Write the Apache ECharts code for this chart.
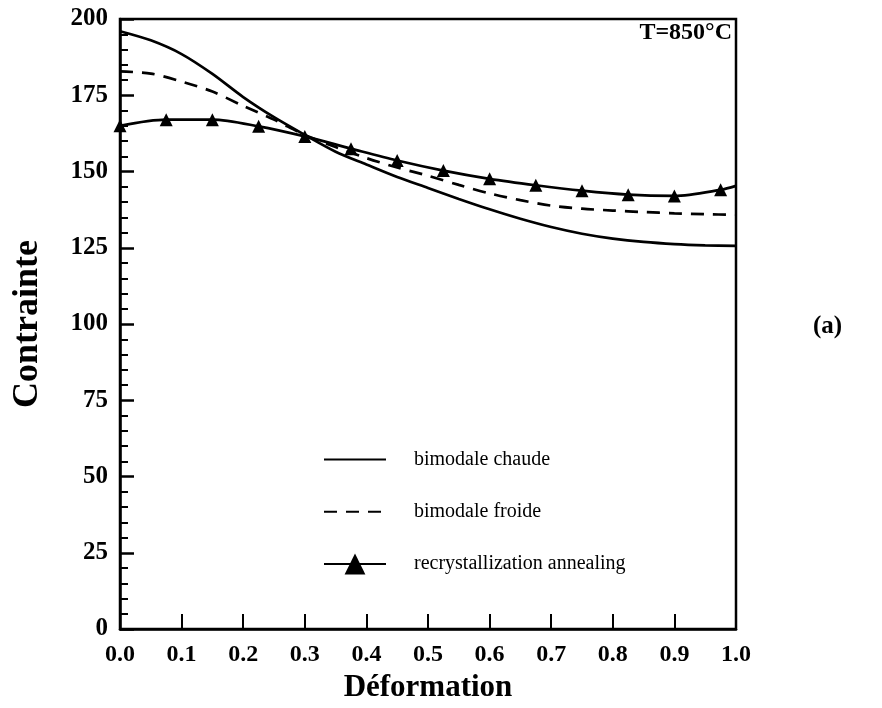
<!DOCTYPE html>
<html>
<head>
<meta charset="utf-8">
<script src="https://cdn.jsdelivr.net/npm/echarts@6/dist/echarts.min.js"></script>
<style>html,body{margin:0;padding:0;background:#fff}#c{width:882px;height:708px}</style>
</head>
<body>
<div id="c"></div>
<script>
// ---- data ----
const xCurve = [0, 0.05, 0.1, 0.15, 0.2, 0.25, 0.3, 0.35, 0.4, 0.45, 0.5, 0.55, 0.6, 0.65, 0.7, 0.75, 0.8, 0.85, 0.9, 0.95, 1.0];
const chaude = [196, 193, 188.5, 182, 174.4, 167.8, 162, 156.5, 152.3, 148.2, 144.6, 141, 137.6, 134.5, 131.8, 129.6, 128, 126.9, 126.2, 125.8, 125.6];
const froide = [182.8, 182.1, 179.5, 176.2, 171.5, 167, 162, 158, 154.4, 151.3, 148.6, 145.6, 142.8, 140.6, 138.8, 137.8, 137.2, 136.7, 136.3, 136, 135.8];
const xRecr = [0, 0.075, 0.15, 0.225, 0.3, 0.375, 0.45, 0.525, 0.6, 0.675, 0.75, 0.825, 0.9, 0.975, 1.0];
const recr = [165, 167, 167, 164.8, 161.5, 157.5, 153.6, 150.3, 147.6, 145.5, 143.7, 142.4, 142, 144, 145.3];
const seriesNames = ['bimodale chaude', 'bimodale froide', 'recrystallization annealing'];
const yTicks = [0, 25, 50, 75, 100, 125, 150, 175, 200];
const xTicks = [0, 0.1, 0.2, 0.3, 0.4, 0.5, 0.6, 0.7, 0.8, 0.9, 1.0];

const pair = (xs, ys) => xs.map((x, i) => [x, ys[i]]);
const recrData = xRecr.map((x, i) => (x === 1.0 ? { value: [x, recr[i]], symbol: 'none' } : [x, recr[i]]));

const serif = '"Liberation Serif", "Times New Roman", serif';
const chart = echarts.init(document.getElementById('c'), null, { renderer: 'canvas' });
chart.setOption({
  animation: false,
  backgroundColor: '#fff',
  grid: { left: 120, right: 146, top: 19, bottom: 75, show: true, borderColor: '#000', borderWidth: 2.5, backgroundColor: 'transparent' },
  xAxis: {
    type: 'value', min: xTicks[0], max: xTicks[xTicks.length - 1], interval: 0.1,
    name: 'Déformation', nameLocation: 'middle', nameGap: 43,
    nameTextStyle: { fontFamily: serif, fontWeight: 'bold', fontSize: 31, color: '#000' },
    axisLine: { show: true, lineStyle: { color: '#000', width: 2.5 } },
    axisTick: { show: true, inside: true, length: 15, lineStyle: { color: '#000', width: 2 } },
    axisLabel: { margin: 14, fontFamily: serif, fontWeight: 'bold', fontSize: 24, color: '#000', formatter: v => v.toFixed(1) },
    splitLine: { show: false }
  },
  yAxis: {
    type: 'value', min: yTicks[0], max: yTicks[yTicks.length - 1], interval: 25,
    name: 'Contrainte', nameLocation: 'middle', nameGap: 74, nameRotate: 90,
    nameTextStyle: { fontFamily: serif, fontWeight: 'bold', fontSize: 36, color: '#000' },
    axisLine: { show: true, lineStyle: { color: '#000', width: 2.5 } },
    axisTick: { show: true, inside: true, length: 14, lineStyle: { color: '#000', width: 2.5 } },
    minorTick: { show: true, splitNumber: 5, length: 8, lineStyle: { color: '#000', width: 2 } },
    axisLabel: { margin: 12, fontFamily: serif, fontWeight: 'bold', fontSize: 25, color: '#000' },
    splitLine: { show: false }
  },
  legend: {
    orient: 'vertical', left: 323, top: 449, padding: 0, itemWidth: 62, itemHeight: 26, itemGap: 31.5,
    data: [
      { name: seriesNames[0], itemStyle: { opacity: 0 } },
      { name: seriesNames[1], itemStyle: { opacity: 0 } },
      { name: seriesNames[2] }
    ],
    textStyle: { fontFamily: serif, fontSize: 20, color: '#000', padding: [0, 0, 0, 23] },
    selectedMode: false
  },
  graphic: [
    { type: 'text', right: 150, top: 21, style: { text: 'T=850°C', font: 'bold 24px ' + serif, fill: '#000' } },
    { type: 'text', left: 813, top: 314, style: { text: '(a)', font: 'bold 25px ' + serif, fill: '#000' } }
  ],
  series: [
    { name: seriesNames[0], type: 'line', data: pair(xCurve, chaude), smooth: 0.3, symbol: 'none',
      lineStyle: { color: '#000', width: 2.7 }, itemStyle: { color: '#000' } },
    { name: seriesNames[1], type: 'line', data: pair(xCurve, froide), smooth: 0.3, symbol: 'none',
      lineStyle: { color: '#000', width: 2.7, type: [13, 9] }, itemStyle: { color: '#000' } },
    { name: seriesNames[2], type: 'line', data: recrData, smooth: 0.3, symbol: 'triangle', symbolSize: 13,
      lineStyle: { color: '#000', width: 2.7 }, itemStyle: { color: '#000' } }
  ]
});
</script>
</body>
</html>
